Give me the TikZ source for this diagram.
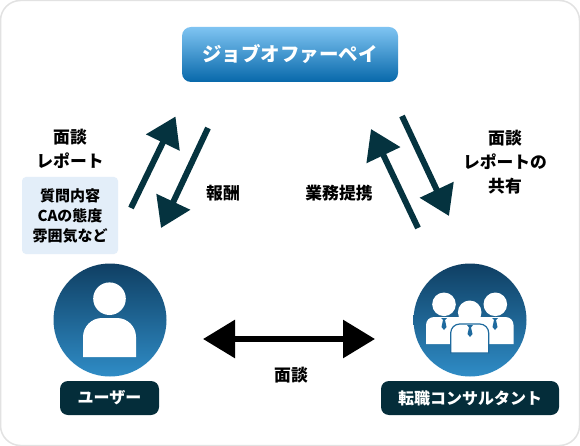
\documentclass[tikz,border=0pt]{standalone}
\usepackage{fontspec}
\setmainfont{Noto Sans CJK JP}
\usetikzlibrary{arrows.meta, positioning}

\definecolor{darkteal}{HTML}{042D3A}
\definecolor{arrowteal}{HTML}{05333F}
\definecolor{paleblue}{HTML}{E3EEF9}
\definecolor{framegray}{HTML}{E2E2E2}
\definecolor{circletop}{HTML}{0F3F63}
\definecolor{circlebottom}{HTML}{2F8CC6}
\definecolor{paytop}{HTML}{7FC4F2}
\definecolor{paybottom}{HTML}{0768AA}
\definecolor{iconblue}{HTML}{1E6A9E}

\tikzset{
  iconcircle/.style={circle, minimum size=113pt, inner sep=0pt, top color=circletop, bottom color=circlebottom},
  namebox/.style={rounded corners=8pt, fill=darkteal, text=white, inner sep=0pt, minimum height=34pt, font=\fontsize{16}{18}\selectfont\bfseries},
  talk/.style={align=center, font=\fontsize{16.8}{24}\selectfont\bfseries},
  flow/.style={draw=arrowteal, line width=6pt, -{Triangle[length=29pt,width=36pt,fill=arrowteal]}},
}

\begin{document}
\begin{tikzpicture}[x=1pt,y=-1pt]
  \useasboundingbox (0,0) rectangle (580,446);
  % 枠
  \draw[framegray, line width=1.5pt, rounded corners=20pt, fill=white] (0.5,0.5) rectangle (579.5,445.5);

  % 上の箱
  \node[rounded corners=9pt, minimum width=216pt, minimum height=55pt, inner sep=0pt, top color=paytop, bottom color=paybottom, text=white, font=\fontsize{19.5}{22}\selectfont\bfseries] (pay) at (290,54.5) {ジョブオファーペイ};

  % ユーザー
  \node[iconcircle] (usercircle) at (110,320) {};
  \fill[white] (109.5,298.7) circle (16.3);
  \fill[white] (83,357) [rounded corners=19pt] -- (83,318) -- (136,318) [sharp corners] -- (136,357) -- cycle;
  \node[namebox, minimum width=99pt] (user) at (109.5,398) {ユーザー};

  % 転職コンサルタント
  \node[iconcircle] (agentcircle) at (470,320) {};
  \foreach \hx/\bx in {444/426, 495.3/462.5} {
    \fill[white] (\hx,304.3) circle (11.8);
    \fill[white] (\bx,344) [rounded corners=8pt] -- (\bx,317) -- (\bx+51,317) [sharp corners] -- (\bx+51,344) -- cycle;
  }
  \fill[iconblue] (441,318) -- (447,318) -- (445,320) -- (446.5,327) -- (444,330) -- (441.5,327) -- (443,320) -- cycle;
  \fill[iconblue] (492,318) -- (498,318) -- (496,320) -- (497.5,327) -- (495,330) -- (492.5,327) -- (494,320) -- cycle;
  \fill[white] (469.7,312.3) circle (11.8);
  \draw[iconblue, line width=1.2pt, fill=white] (450.7,353) [rounded corners=9pt] -- (450.7,324) -- (488.7,324) [sharp corners] -- (488.7,353) -- cycle;
  \fill[iconblue] (467,325) -- (473,325) -- (471,327.5) -- (472.5,334) -- (470,337) -- (467.5,334) -- (469,327.5) -- cycle;
  \node[namebox, minimum width=178pt] (agent) at (470,398) {転職コンサルタント};

  % 補足の箱
  \node[rounded corners=4pt, fill=paleblue, minimum width=96pt, minimum height=77pt, inner sep=0pt, align=center, font=\fontsize{15}{20}\selectfont\bfseries] (detail) at (70,215.5) {質問内容\\CAの態度\\雰囲気など};

  % 矢印
  \coordinate (a1s) at (131,208);
  \coordinate (a1e) at (175.5,116.5);
  \coordinate (a2s) at (208,128);
  \coordinate (a2e) at (161,228);
  \coordinate (a3s) at (418,228);
  \coordinate (a3e) at (371,129);
  \coordinate (a4s) at (402,116);
  \coordinate (a4e) at (449,216);
  \coordinate (a5s) at (203,339);
  \coordinate (a5e) at (375,339);
  \draw[flow] (a1s) -- (a1e);
  \draw[flow] (a2s) -- (a2e);
  \draw[flow] (a3s) -- (a3e);
  \draw[flow] (a4s) -- (a4e);
  \draw[line width=6pt, {Triangle[length=32pt,width=37pt]}-{Triangle[length=32pt,width=37pt]}] (a5s) -- (a5e);

  % ラベル
  \node[talk] (report) at (70,149) {面談\\レポート};
  \node[talk] (fee) at (223,193.5) {報酬};
  \node[talk] (biz) at (339,193.5) {業務提携};
  \node[talk] (share) at (505,162.5) {面談\\レポートの\\共有};
  \node[talk] (meet) at (291,375) {面談};
\end{tikzpicture}
\end{document}
